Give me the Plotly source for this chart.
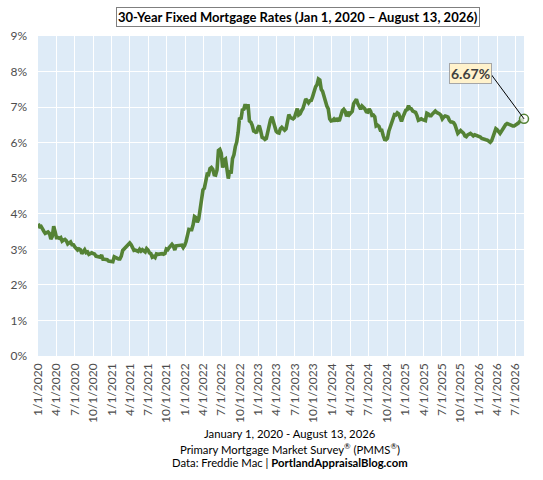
import pandas as pd
import plotly.graph_objects as go

# Weekly 30-year fixed rates (Freddie Mac PMMS), first week 2020-01-02
rates_2020 = [3.72, 3.64, 3.65, 3.60, 3.51, 3.45, 3.47, 3.49, 3.45, 3.29, 3.36, 3.65, 3.50,
              3.33, 3.33, 3.31, 3.33, 3.23, 3.26, 3.28, 3.24, 3.15, 3.18, 3.21, 3.13, 3.13,
              3.07, 3.03, 2.98, 3.01, 2.99, 2.88, 2.96, 2.99, 2.91, 2.93, 2.86, 2.87, 2.90,
              2.88, 2.87, 2.81, 2.80, 2.81, 2.78, 2.84, 2.72, 2.72, 2.71, 2.71, 2.67, 2.66, 2.67]
rates_2021 = [2.65, 2.79, 2.77, 2.73, 2.73, 2.73, 2.81, 2.97, 3.02, 3.05, 3.09, 3.17,
              3.18, 3.13, 3.04, 2.97, 2.98, 2.96, 2.94, 3.00, 2.95, 2.99, 2.96, 2.93, 3.02,
              2.98, 2.90, 2.88, 2.78, 2.80, 2.77, 2.87, 2.86, 2.87, 2.87, 2.88, 2.86, 2.88, 3.01,
              2.99, 3.05, 3.09, 3.14, 3.09, 2.98, 3.10, 3.10, 3.11, 3.10, 3.12, 3.05, 3.11]
rates_2022 = [3.22, 3.45, 3.56, 3.55, 3.55, 3.69, 3.92, 3.89, 3.76, 3.85, 4.16, 4.42, 4.67,
              4.72, 5.00, 5.11, 5.10, 5.27, 5.30, 5.25, 5.10, 5.09, 5.23, 5.78, 5.81, 5.70,
              5.30, 5.51, 5.54, 5.30, 4.99, 5.22, 5.13, 5.55, 5.66, 5.89, 6.02, 6.29, 6.70,
              6.66, 6.92, 6.94, 7.08, 6.95, 7.08, 6.61, 6.58, 6.49, 6.33, 6.31, 6.27, 6.42]
rates_2023 = [6.48, 6.33, 6.15, 6.13, 6.09, 6.12, 6.32, 6.50, 6.65, 6.73, 6.60, 6.42, 6.32,
              6.28, 6.27, 6.39, 6.43, 6.39, 6.35, 6.39, 6.57, 6.79, 6.71, 6.69, 6.67, 6.71,
              6.81, 6.96, 6.78, 6.81, 6.90, 6.96, 7.09, 7.23, 7.18, 7.12, 7.18, 7.19, 7.31,
              7.49, 7.57, 7.63, 7.79, 7.76, 7.50, 7.44, 7.29, 7.22, 7.03, 6.95, 6.67, 6.61]
rates_2024 = [6.62, 6.66, 6.60, 6.69, 6.63, 6.64, 6.77, 6.90, 6.94, 6.88, 6.74, 6.87, 6.79,
              6.82, 6.88, 7.10, 7.17, 7.22, 7.09, 7.02, 6.94, 7.03, 6.99, 6.95, 6.87, 6.86,
              6.95, 6.89, 6.77, 6.78, 6.73, 6.47, 6.49, 6.46, 6.35, 6.35, 6.20, 6.09, 6.08,
              6.12, 6.32, 6.44, 6.54, 6.72, 6.79, 6.78, 6.84, 6.81, 6.69, 6.60, 6.72, 6.85]
rates_2025 = [6.91, 6.93, 7.04, 6.96, 6.95, 6.89, 6.87, 6.85, 6.76, 6.63, 6.65, 6.67, 6.65,
              6.64, 6.62, 6.83, 6.81, 6.76, 6.76, 6.81, 6.86, 6.89, 6.85, 6.84, 6.81, 6.77,
              6.67, 6.72, 6.75, 6.74, 6.72, 6.63, 6.58, 6.58, 6.56, 6.50, 6.35, 6.26, 6.30,
              6.34, 6.30, 6.27, 6.19, 6.17, 6.22, 6.24, 6.26, 6.23, 6.19, 6.22, 6.21, 6.18]
rates_2026 = [6.19, 6.16, 6.12, 6.10, 6.09, 6.08, 6.07, 6.05, 6.01, 6.05, 6.15, 6.28, 6.39,
              6.36, 6.30, 6.26, 6.32, 6.39, 6.45, 6.51, 6.54, 6.52, 6.50, 6.49, 6.47, 6.47,
              6.49, 6.51, 6.55, 6.60, 6.62, 6.64, 6.67]

rates = rates_2020 + rates_2021 + rates_2022 + rates_2023 + rates_2024 + rates_2025 + rates_2026
dates = pd.date_range(start="2020-01-02", periods=len(rates), freq="7D")

tick_labels = ["1/1/2020", "4/1/2020", "7/1/2020", "10/1/2020",
               "1/1/2021", "4/1/2021", "7/1/2021", "10/1/2021",
               "1/1/2022", "4/1/2022", "7/1/2022", "10/1/2022",
               "1/1/2023", "4/1/2023", "7/1/2023", "10/1/2023",
               "1/1/2024", "4/1/2024", "7/1/2024", "10/1/2024",
               "1/1/2025", "4/1/2025", "7/1/2025", "10/1/2025",
               "1/1/2026", "4/1/2026", "7/1/2026"]
tick_vals = pd.to_datetime(tick_labels, format="%m/%d/%Y")

title_text = "30-Year Fixed Mortgage Rates (Jan 1, 2020 – August 13, 2026)"
footer_lines = ["January 1, 2020 - August 13, 2026",
                "Primary Mortgage Market Survey<sup>®</sup> (PMMS<sup>®</sup>)",
                "Data: Freddie Mac | <b>PortlandAppraisalBlog.com</b>"]

FONT = "Lato, Carlito, Calibri, sans-serif"
GREEN = "#548235"

last_x = dates[-1]
last_y = rates[-1]

fig = go.Figure()
fig.add_trace(go.Scatter(x=dates, y=rates, mode="lines",
                         line=dict(color=GREEN, width=3.6), hoverinfo="skip",
                         showlegend=False))
fig.add_trace(go.Scatter(x=[last_x], y=[last_y], mode="markers",
                         marker=dict(symbol="circle", size=9, color="rgba(255,255,255,0.7)",
                                     line=dict(color=GREEN, width=1.5)),
                         showlegend=False, hoverinfo="skip", cliponaxis=False))

# connector line
fig.add_annotation(x=last_x, y=last_y, xref="x", yref="y", text=" ",
                   font=dict(size=1),
                   showarrow=True, arrowhead=0, arrowwidth=1, arrowcolor="#000000",
                   ax=-34, ay=-46, standoff=0)
# value label
fig.add_annotation(x=last_x, y=last_y, xref="x", yref="y",
                   text=f"<b>{last_y:.2f}%</b>", showarrow=False,
                   xshift=-54, yshift=45,
                   font=dict(family=FONT, size=14, color="#404040"),
                   bgcolor="#FFF2CC", bordercolor="#A6A6A6", borderwidth=1, borderpad=1)
# title
fig.add_annotation(x=0.534, y=1.06, xref="paper", yref="paper", xanchor="center",
                   yanchor="middle", text=f"<b>{title_text}</b>", showarrow=False,
                   font=dict(family=FONT, size=13, color="#000000"),
                   bgcolor="#FFFFFF", bordercolor="#7F7F7F", borderwidth=1, borderpad=1)
# footer
for i, line in enumerate(footer_lines):
    fig.add_annotation(x=0.518, y=-0.242 - i * 0.0455, xref="paper", yref="paper",
                       xanchor="center", yanchor="middle", text=line, showarrow=False,
                       font=dict(family=FONT, size=11.3, color="#000000"))

fig.update_layout(
    width=543, height=480,
    margin=dict(l=38, r=19, t=36, b=124),
    paper_bgcolor="#FFFFFF", plot_bgcolor="#DEEBF7",
    font=dict(family=FONT, color="#595959"),
    xaxis=dict(type="date", range=["2020-01-01", "2026-08-13"],
               tickvals=tick_vals, ticktext=tick_labels, tickangle=-90,
               tickfont=dict(family=FONT, size=12, color="#4D4D4D"),
               showgrid=True, gridcolor="#FFFFFF", gridwidth=1,
               zeroline=False, showline=False, ticks="", ticklabelstandoff=4,
               automargin=False),
    yaxis=dict(range=[0, 9], dtick=1, ticksuffix="%",
               tickfont=dict(family=FONT, size=12, color="#4D4D4D"),
               showgrid=True, gridcolor="#FFFFFF", gridwidth=1.3,
               zeroline=False, showline=False, ticks="", ticklabelstandoff=10,
               automargin=False),
)

fig.write_html("out.html", config={"displayModeBar": False},
               post_script="document.body.style.margin='0';document.body.style.padding='0';")
